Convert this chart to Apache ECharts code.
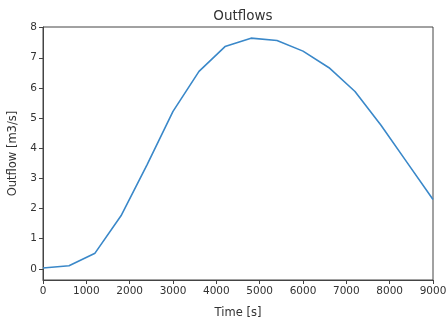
<!DOCTYPE html>
<html>
<head>
<meta charset="utf-8">
<script src="https://cdn.jsdelivr.net/npm/echarts@6/dist/echarts.min.js"></script>
<style>
  html, body { margin: 0; padding: 0; background: #fff; }
  #chart { width: 447px; height: 321px; }
</style>
</head>
<body>
<div id="chart"></div>
<script>
// time steps [s] and outflow [m3/s]
var times = [0, 600, 1200, 1800, 2400, 3000, 3600, 4200, 4800, 5400, 6000, 6600, 7200, 7800, 8400, 9000];
var outflows = [0.03, 0.1, 0.52, 1.76, 3.45, 5.22, 6.55, 7.37, 7.65, 7.57, 7.22, 6.67, 5.88, 4.76, 3.53, 2.3];
var yTicks = [0, 1, 2, 3, 4, 5, 6, 7, 8];

var font = "DejaVu Sans";
var textColor = "#333";
var axisColor = "#444";

var chart = echarts.init(document.getElementById("chart"), null, { renderer: "canvas" });

var option = {
  animation: false,
  title: {
    text: "Outflows",
    left: 238,
    top: 4,
    textAlign: "center",
    textStyle: { fontFamily: font, fontSize: 13.5, fontWeight: "normal", color: textColor }
  },
  grid: {
    left: 43,
    right: 14,
    top: 27,
    bottom: 41,
    outerBoundsMode: "none",
    containLabel: false,
    show: true,
    borderColor: axisColor,
    borderWidth: 1,
    backgroundColor: "transparent"
  },
  xAxis: {
    type: "value",
    min: 0,
    max: 9000,
    interval: 1000,
    name: "Time [s]",
    nameLocation: "middle",
    nameGap: 27,
    nameTextStyle: { fontFamily: font, fontSize: 11.5, color: textColor },
    axisLine: { show: true, onZero: false, lineStyle: { color: axisColor } },
    axisTick: { show: true, inside: false, length: 4, lineStyle: { color: axisColor } },
    axisLabel: {
      fontFamily: font, fontSize: 10.5, color: textColor, margin: 6,
      formatter: function (v) { return String(v); }
    },
    splitLine: { show: false }
  },
  yAxis: {
    type: "value",
    min: -0.37,
    max: 8.02,
    name: "Outflow [m3/s]",
    nameLocation: "middle",
    nameGap: 21,
    nameRotate: 90,
    nameTextStyle: { fontFamily: font, fontSize: 11.5, color: textColor },
    axisLine: { show: true, onZero: false, lineStyle: { color: axisColor } },
    axisTick: { show: true, inside: false, length: 4, customValues: yTicks, lineStyle: { color: axisColor } },
    axisLabel: { fontFamily: font, fontSize: 10.5, color: textColor, margin: 6, customValues: yTicks },
    splitLine: { show: false }
  },
  series: [
    {
      type: "line",
      data: times.map(function (t, i) { return [t, outflows[i]]; }),
      showSymbol: false,
      lineStyle: { color: "#3a88c9", width: 1.6 },
      itemStyle: { color: "#3a88c9" }
    }
  ]
};

chart.setOption(option);
</script>
</body>
</html>
